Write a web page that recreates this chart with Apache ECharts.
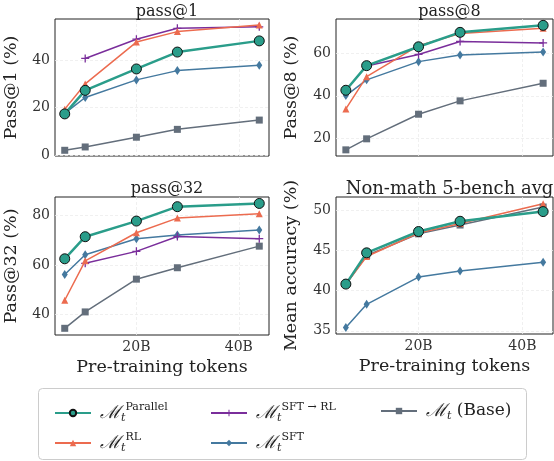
<!DOCTYPE html>
<html>
<head>
<meta charset="utf-8">
<script src="https://cdn.jsdelivr.net/npm/echarts@6/dist/echarts.min.js"></script>
<style>
  html, body { margin: 0; padding: 0; background: #fff; }
  #main { width: 554px; height: 461px; }
</style>
</head>
<body>
<div id="main"></div>
<script>
// pre-training tokens (B)
var tokens = [6, 10, 20, 28, 44];

// pass@1
var p1Parallel = [17.4, 27.3, 36.3, 43.4, 48.1];
var p1RL       = [19.4, 30.0, 47.6, 52.0, 54.8];
var p1SFTRL    = [null, 40.7, 48.8, 53.4, 54.0];
var p1SFT      = [17.6, 24.3, 31.7, 35.6, 37.9];
var p1Base     = [2.1, 3.5, 7.6, 10.9, 14.8];

// pass@8
var p8Parallel = [42.6, 54.2, 63.1, 69.9, 73.2];
var p8RL       = [33.8, 49.0, 63.6, 69.4, 71.8];
var p8SFTRL    = [null, 54.0, 59.5, 65.6, 64.9];
var p8SFT      = [40.1, 47.5, 56.1, 59.2, 60.6];
var p8Base     = [14.5, 19.7, 31.3, 37.6, 45.9];

// pass@32
var p32Parallel = [62.5, 71.4, 77.7, 83.5, 84.8];
var p32RL       = [45.8, 61.7, 73.0, 78.9, 80.7];
var p32SFTRL    = [null, 60.7, 65.5, 71.5, 70.6];
var p32SFT      = [56.2, 64.1, 70.6, 72.1, 74.1];
var p32Base     = [34.5, 41.1, 54.3, 58.9, 67.6];

// non-math 5-bench avg
var nmParallel = [40.83, 44.73, 47.39, 48.67, 49.88];
var nmRL       = [40.8, 44.27, 47.2, 48.4, 50.87];
var nmSFT      = [35.4, 38.3, 41.7, 42.45, 43.57];
var nmBase     = [40.8, 44.4, 47.1, 48.2, 50.45];

var panelTitles = ['pass@1', 'pass@8', 'pass@32', 'Non-math 5-bench avg'];
var yNames = ['Pass@1 (%)', 'Pass@8 (%)', 'Pass@32 (%)', 'Mean accuracy (%)'];
var yTicks = [[0, 20, 40], [20, 40, 60], [40, 60, 80], [35, 40, 45, 50]];
var yRanges = [[-0.3, 57.3], [11.6, 76.2], [31.8, 87.4], [34.6, 51.7]];
var xTicks = [20, 40];
var xTickLabels = ['20B', '40B'];

var C = {
  par: '#2a9d8a', rl: '#ec6b4f', sftrl: '#7a2e9b', sft: '#44799f', base: '#636e7b'
};

var serif = 'DejaVu Serif';
var myChart = echarts.init(document.getElementById('main'));

function pts(arr) {
  var out = [];
  for (var i = 0; i < arr.length; i++) {
    if (arr[i] !== null) out.push([tokens[i], arr[i]]);
  }
  return out;
}

function mk(name, idx, arr) {
  var s = {
    name: name, type: 'line', xAxisIndex: idx, yAxisIndex: idx,
    data: pts(arr), animation: false, showAllSymbol: true,
    lineStyle: { color: C[name], width: 1.5 },
    itemStyle: { color: C[name] },
    symbolSize: 7, z: 2
  };
  if (name === 'par') {
    s.symbol = 'circle'; s.symbolSize = 10; s.z = 5;
    s.lineStyle.width = 2.5;
    s.itemStyle = { color: C.par, borderColor: '#111', borderWidth: 1 };
  } else if (name === 'rl') {
    s.symbol = 'triangle'; s.symbolSize = 7;
  } else if (name === 'sftrl') {
    s.symbol = 'path://M-1,-0.16H1V0.16H-1Z M-0.16,-1H0.16V1H-0.16Z'; s.symbolSize = 8;
  } else if (name === 'sft') {
    s.symbol = 'path://M0,-1L0.6,0L0,1L-0.6,0Z'; s.symbolSize = [6, 9];
  } else {
    s.symbol = 'rect'; s.symbolSize = 7;
  }
  return s;
}

var grids = [
  { left: 55, top: 19, width: 214, height: 137 },
  { left: 336, top: 19, width: 217, height: 137 },
  { left: 55, top: 197, width: 214, height: 138 },
  { left: 336, top: 197, width: 217, height: 137 }
];
grids.forEach(function (g) {
  g.show = true; g.borderColor = '#222'; g.borderWidth = 1; g.backgroundColor = '#fff';
});

var gridLine = { show: true, lineStyle: { color: '#ececec', width: 0.8, type: [3, 2] } };
var xAxes = [], yAxes = [], titles = [];
for (var i = 0; i < 4; i++) {
  var bottom = i >= 2;
  xAxes.push({
    type: 'value', gridIndex: i, min: 4.1, max: 45.9,
    name: bottom ? 'Pre-training tokens' : '', nameLocation: 'middle', nameGap: 23,
    nameTextStyle: { fontFamily: serif, fontSize: 17.5, color: '#222' },
    axisLine: { show: false }, axisTick: { show: false, customValues: xTicks },
    axisLabel: {
      show: bottom, customValues: xTicks, margin: 5,
      fontFamily: serif, fontSize: 14, color: '#333',
      formatter: function (v) { return xTickLabels[xTicks.indexOf(v)]; }
    },
    splitLine: gridLine
  });
  yAxes.push({
    type: 'value', gridIndex: i, min: yRanges[i][0], max: yRanges[i][1],
    name: yNames[i], nameLocation: 'middle', nameGap: i % 2 === 0 ? 35 : 36,
    nameTextStyle: { fontFamily: serif, fontSize: 17.5, color: '#222' },
    axisLine: { show: false }, axisTick: { show: false, customValues: yTicks[i] },
    axisLabel: { customValues: yTicks[i], margin: 5, fontFamily: serif, fontSize: 14, color: '#333' },
    splitLine: gridLine
  });
  titles.push({
    text: panelTitles[i], left: grids[i].left + grids[i].width / 2, textAlign: 'center',
    top: i < 2 ? -1 : (i === 3 ? 175 : 176),
    textStyle: { fontFamily: serif, fontSize: i === 3 ? 18 : 16, fontWeight: 'normal', color: '#222' }
  });
}

var series = [
  mk('base', 0, p1Base), mk('sft', 0, p1SFT), mk('sftrl', 0, p1SFTRL), mk('rl', 0, p1RL), mk('par', 0, p1Parallel),
  mk('base', 1, p8Base), mk('sft', 1, p8SFT), mk('sftrl', 1, p8SFTRL), mk('rl', 1, p8RL), mk('par', 1, p8Parallel),
  mk('base', 2, p32Base), mk('sft', 2, p32SFT), mk('sftrl', 2, p32SFTRL), mk('rl', 2, p32RL), mk('par', 2, p32Parallel),
  mk('base', 3, nmBase), mk('sft', 3, nmSFT), mk('rl', 3, nmRL), mk('par', 3, nmParallel)
];

var labels = {
  par: '{m|ℳ}{sub|t}{sup|Parallel}',
  rl: '{m|ℳ}{sub|t}{sup|RL}',
  sftrl: '{m|ℳ}{sub|t}{sup|SFT → RL}',
  sft: '{m|ℳ}{sub|t}{sup|SFT}',
  base: '{m|ℳ}{sub|t}{txt| (Base)}'
};
var rich = {
  m: { fontFamily: serif, fontSize: 18, fontStyle: 'italic', color: '#222', lineHeight: 22, padding: [0, 0, 0, 4] },
  sub: { fontFamily: serif, fontSize: 11, fontStyle: 'italic', color: '#222', verticalAlign: 'bottom', lineHeight: 11 },
  sup: { fontFamily: serif, fontSize: 11, color: '#222', verticalAlign: 'top', lineHeight: 12 },
  txt: { fontFamily: serif, fontSize: 17, color: '#222' }
};
function legendAt(left, names) {
  return {
    orient: 'vertical', left: left, top: 397, itemWidth: 36, itemHeight: 8, itemGap: 8,
    data: names, formatter: function (n) { return labels[n]; },
    textStyle: { rich: rich }, selectedMode: false
  };
}

var option = {
  backgroundColor: '#fff',
  title: titles,
  grid: grids,
  xAxis: xAxes,
  yAxis: yAxes,
  legend: [legendAt(49, ['par', 'rl']), legendAt(205, ['sftrl', 'sft']), legendAt(375, ['base'])],
  graphic: [{
    type: 'rect', shape: { x: 38.5, y: 388.5, width: 488, height: 71, r: 4 }, z: -1,
    style: { fill: '#fff', stroke: '#cccccc', lineWidth: 1 }
  }],
  series: series
};

myChart.setOption(option);
window.addEventListener('resize', function () { myChart.resize(); });
</script>
</body>
</html>
